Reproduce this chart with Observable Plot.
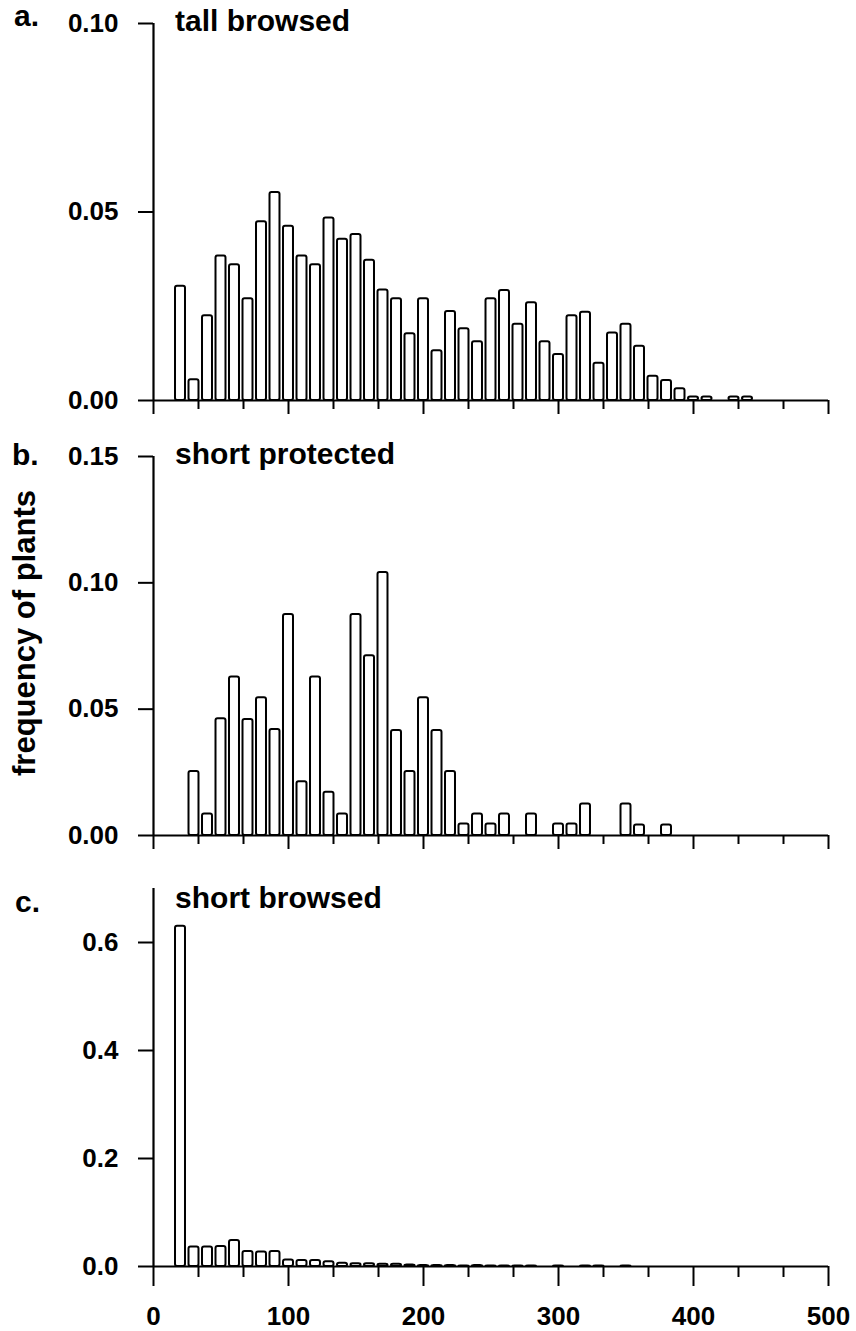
<!DOCTYPE html>
<html>
<head>
<meta charset="utf-8">
<script src="https://cdn.jsdelivr.net/npm/d3@7"></script>
<script src="https://cdn.jsdelivr.net/npm/@observablehq/plot@0.6"></script>
<style>
  body { margin: 0; background: #fff; }
  #fig { position: relative; width: 856px; height: 1331px; background: #fff;
         font-family: "Liberation Sans", Arial, Helvetica, sans-serif; color: #000; }
  .panel { position: absolute; left: 0; z-index: 1; }
  .letter { position: absolute; z-index: 5; font-size: 30px; font-weight: bold; line-height: 1; }
  #ylab { position: absolute; z-index: 5; font-size: 31px; font-weight: bold; white-space: nowrap;
          left: 25px; top: 633px; transform: translate(-50%, -50%) rotate(-90deg); }
</style>
</head>
<body>
<div id="fig">
  <div class="letter" style="left:14px; top:1px;">a.</div>
  <div class="letter" style="left:12px; top:440px;">b.</div>
  <div class="letter" style="left:15px; top:887px;">c.</div>
  <div id="ylab">frequency of plants</div>
</div>
<script>
// height classes (bin centres) shared by all three histograms
const heightClass = [20, 30, 40, 50, 60, 70, 80, 90, 100, 110, 120, 130, 140, 150, 160,
  170, 180, 190, 200, 210, 220, 230, 240, 250, 260, 270, 280, 290, 300, 310, 320, 330,
  340, 350, 360, 370, 380, 390, 400, 410, 420, 430, 440];

// a. tall browsed
const tallBrowsed = [0.0303, 0.0055, 0.0225, 0.0383, 0.0360, 0.0270, 0.0474, 0.0552,
  0.0462, 0.0383, 0.0360, 0.0484, 0.0428, 0.0440, 0.0372, 0.0293, 0.0270, 0.0177, 0.0270,
  0.0132, 0.0236, 0.0190, 0.0156, 0.0270, 0.0292, 0.0202, 0.0259, 0.0156, 0.0122, 0.0225,
  0.0234, 0.0099, 0.0179, 0.0202, 0.0144, 0.0064, 0.0053, 0.0031, 0.0009, 0.0009, 0,
  0.0009, 0.0009];

// b. short protected
const shortProtected = [0, 0.0253, 0.0085, 0.0462, 0.0627, 0.0459, 0.0545, 0.0420,
  0.0875, 0.0213, 0.0627, 0.0171, 0.0085, 0.0875, 0.0711, 0.1041, 0.0416, 0.0253, 0.0545,
  0.0416, 0.0253, 0.0046, 0.0085, 0.0046, 0.0085, 0, 0.0085, 0, 0.0046, 0.0046, 0.0125,
  0, 0, 0.0125, 0.0042, 0, 0.0042, 0, 0, 0, 0, 0, 0];

// c. short browsed
const shortBrowsed = [0.63, 0.036, 0.036, 0.037, 0.048, 0.028, 0.027, 0.028, 0.012,
  0.011, 0.011, 0.009, 0.006, 0.005, 0.005, 0.004, 0.004, 0.003, 0.002, 0.002, 0.002,
  0.001, 0.002, 0.001, 0.001, 0.001, 0.001, 0, 0.001, 0, 0.001, 0.001, 0, 0.001, 0, 0,
  0, 0, 0, 0, 0, 0, 0];

// x axis ticks: labelled every 100, small ticks at thirds between
const xMajor = [0, 100, 200, 300, 400, 500];
const xMinor = [33.33, 66.67, 133.33, 166.67, 233.33, 266.67, 333.33, 366.67, 433.33, 466.67];
const xLabels = ["0", "100", "200", "300", "400", "500"];

const titles = ["tall browsed", "short protected", "short browsed"];
const yTicksA = [0, 0.05, 0.10];
const yTicksB = [0, 0.05, 0.10, 0.15];
const yTicksC = [0, 0.2, 0.4, 0.6];

const font = '"Liberation Sans", Arial, Helvetica, sans-serif';
const fig = document.getElementById("fig");

function panel({values, yMax, yTicks, yFormat, title, top, height, marginTop, marginBottom,
                majorSize, minorSize, labelled, titleDy}) {
  const data = heightClass.map((x, i) => ({x, f: values[i]})).filter(d => d.f > 0);
  const chart = Plot.plot({
    width: 856,
    height,
    marginLeft: 153,
    marginRight: 28,
    marginTop,
    marginBottom,
    x: {domain: [0, 500]},
    y: {domain: [0, yMax]},
    style: {fontFamily: font, background: "transparent", color: "black", overflow: "visible"},
    marks: [
      Plot.rectY(data, {
        x1: d => d.x - 3.7, x2: d => d.x + 3.7, y: "f",
        fill: "white", stroke: "black", strokeWidth: 2, rx: 2
      }),
      Plot.ruleY([0], {x1: 0, x2: 500, stroke: "black", strokeWidth: 2.2}),
      Plot.ruleX([0], {y1: 0, y2: yMax, stroke: "black", strokeWidth: 2.2}),
      Plot.axisY({
        ticks: yTicks, tickSize: 15, tickPadding: 20, tickFormat: yFormat,
        fontSize: 26, fontWeight: "bold", stroke: "black", strokeWidth: 2, label: null
      }),
      Plot.axisX({
        ticks: xMajor, tickSize: majorSize, tickPadding: 20,
        tickFormat: labelled ? (d => xLabels[xMajor.indexOf(d)]) : () => "",
        fontSize: 26, fontWeight: "bold", stroke: "black", strokeWidth: 2, label: null
      }),
      Plot.axisX({
        ticks: xMinor, tickSize: minorSize, tickFormat: () => "",
        stroke: "black", strokeWidth: 2, label: null
      }),
      Plot.text([title], {
        x: 16, y: yMax, text: d => d, textAnchor: "start", lineAnchor: "middle",
        dy: titleDy, fontSize: 30, fontWeight: "bold", fill: "black"
      })
    ]
  });
  chart.classList.add("panel");
  chart.style.top = top + "px";
  fig.appendChild(chart);
}

panel({values: tallBrowsed, yMax: 0.10, yTicks: yTicksA, yFormat: d3.format(".2f"),
  title: titles[0], top: 0, height: 430, marginTop: 23, marginBottom: 30,
  majorSize: 14, minorSize: 9, labelled: false, titleDy: -2});

panel({values: shortProtected, yMax: 0.15, yTicks: yTicksB, yFormat: d3.format(".2f"),
  title: titles[1], top: 430, height: 430, marginTop: 26, marginBottom: 25,
  majorSize: 14, minorSize: 9, labelled: false, titleDy: -2});

panel({values: shortBrowsed, yMax: 0.7, yTicks: yTicksC, yFormat: d3.format(".1f"),
  title: titles[2], top: 860, height: 471, marginTop: 28, marginBottom: 65,
  majorSize: 20, minorSize: 11, labelled: true, titleDy: 10});
</script>
</body>
</html>
